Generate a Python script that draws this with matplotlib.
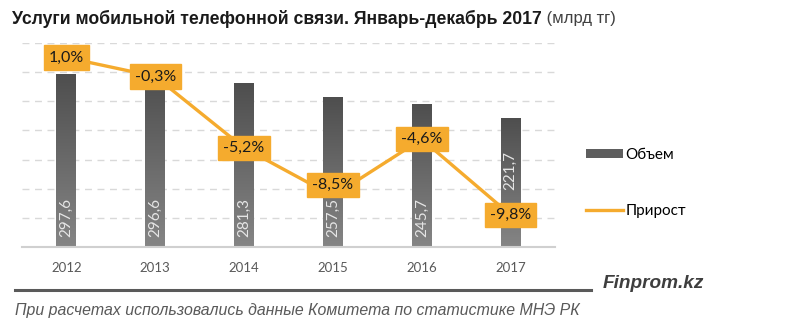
import matplotlib
matplotlib.use("Agg")
import matplotlib.pyplot as plt
import numpy as np
from matplotlib.patches import Patch
from matplotlib.lines import Line2D
from matplotlib.colors import LinearSegmentedColormap

years = ["2012", "2013", "2014", "2015", "2016", "2017"]
volume = [297.6, 296.6, 281.3, 257.5, 245.7, 221.7]
growth = [1.0, -0.3, -5.2, -8.5, -4.6, -9.8]
legend_labels = ["Объем", "Прирост"]
title_bold = "Услуги мобильной телефонной связи. Январь-декабрь 2017"
title_unit = " (млрд тг)"
footnote = "При расчетах использовались данные Комитета по статистике МНЭ РК"
brand = "Finprom.kz"

SANS = ["Liberation Sans", "DejaVu Sans"]
BODY = ["Lato", "Open Sans", "DejaVu Sans"]

ORANGE = "#F5AB2E"
GRAY_TXT = "#595959"

fig = plt.figure(figsize=(8.0, 3.27), dpi=100)
W, H = 800, 327
ax = fig.add_axes([22 / W, 1 - 247 / H, (555 - 22) / W, (247 - 43) / H])
ax2 = ax.twinx()

x = np.arange(len(years))
bars = ax.bar(x, volume, width=0.225, color="#666666", zorder=2)
ax.set_yticks(np.arange(50, 351, 50))
ax.yaxis.grid(True, color="#d9d9d9", linestyle=(0, (5, 4)), linewidth=1.0, zorder=0)
ax.set_axisbelow(True)
ax.tick_params(axis="y", length=0, labelleft=False)
ax.set_xticks(x)
ax.set_xticklabels(years, fontsize=9.5, color=GRAY_TXT, family=BODY)
ax.tick_params(axis="x", length=0, pad=11)
for s in ["top", "right", "left"]:
    ax.spines[s].set_visible(False)
ax.spines["bottom"].set_color("#d0d0d0")
ax.spines["bottom"].set_linewidth(1.5)

# gradient fill for bars
cmap = LinearSegmentedColormap.from_list("g", ["#858585", "#4e4e4e"])
grad = np.linspace(0, 1, 256).reshape(-1, 1)
for b in bars:
    b.set_facecolor("none")
    im = ax.imshow(grad, cmap=cmap, origin="lower", aspect="auto",
                   extent=[b.get_x(), b.get_x() + b.get_width(), b.get_y(), b.get_y() + b.get_height()],
                   zorder=2)
    im.set_clip_path(b)
ax.set_xlim(-0.5, len(years) - 0.5)
ax.set_ylim(0, 350)

# value labels inside bars (rotated, at base)
lift = {5: 47}
for i, (b, v) in enumerate(zip(bars, volume)):
    off = 10 + lift.get(i, 0)
    ax.annotate(f"{v:.1f}".replace(".", ","), (b.get_x() + b.get_width() / 2, 0),
                xytext=(0, off * 0.72), textcoords="offset points",
                rotation=90, ha="center", va="bottom", color="#e6e6e6",
                fontsize=11, family=BODY, zorder=3)

# growth line
ax2.plot(x, growth, color=ORANGE, linewidth=2.4, zorder=4, solid_joinstyle="round")
ax2.set_ylim(-12, 2)
ax2.set_yticks([])
for s in ax2.spines.values():
    s.set_visible(False)
label_shift = {3: 11}
for i, (xi, g) in enumerate(zip(x, growth)):
    ax2.annotate(f"{g:.1f}%".replace(".", ","), (xi, g),
                 xytext=(0, label_shift.get(i, 0) * 0.72), textcoords="offset points",
                 ha="center", va="center",
                 fontsize=11.5, family=BODY, color="#1a1a1a", zorder=5,
                 bbox=dict(boxstyle="square,pad=0.32", fc=ORANGE, ec=ORANGE))

# legend
handles = [Patch(facecolor="#5e5e5e", edgecolor="none"),
           Line2D([0], [0], color=ORANGE, linewidth=2.4)]
fig.legend(handles, legend_labels, loc="center left", bbox_to_anchor=(586 / W, 1 - 183 / H),
           frameon=False, prop={"family": BODY, "size": 11},
           handlelength=2.4, handleheight=0.55, handletextpad=0.2, labelspacing=2.75,
           borderpad=0, borderaxespad=0)

# title
t1 = fig.text(12 / W, 1 - 19 / H, title_bold, fontsize=12.7, fontweight="bold", family=SANS,
              color="#1a1a1a", va="center", ha="left")
fig.canvas.draw()
bb = t1.get_window_extent(fig.canvas.get_renderer())
fig.text(bb.x1 / W, 1 - 19 / H, title_unit, fontsize=12, family=SANS,
         color="#404040", va="center", ha="left")

# footer
fig.add_artist(Line2D([15 / W, 591 / W], [1 - 290 / H, 1 - 290 / H], color="#5a5a5a",
                      linewidth=2.2, transform=fig.transFigure))
fig.text(603 / W, 1 - 283 / H, brand, fontsize=13.7, fontweight="bold",
         fontstyle="italic", family=SANS, color="#3e3e3e", va="center", ha="left")
fig.text(15 / W, 1 - 310 / H, footnote, fontsize=11.4, fontstyle="italic",
         family=SANS, color=GRAY_TXT, va="center", ha="left")

fig.savefig("out.png", dpi=100)
